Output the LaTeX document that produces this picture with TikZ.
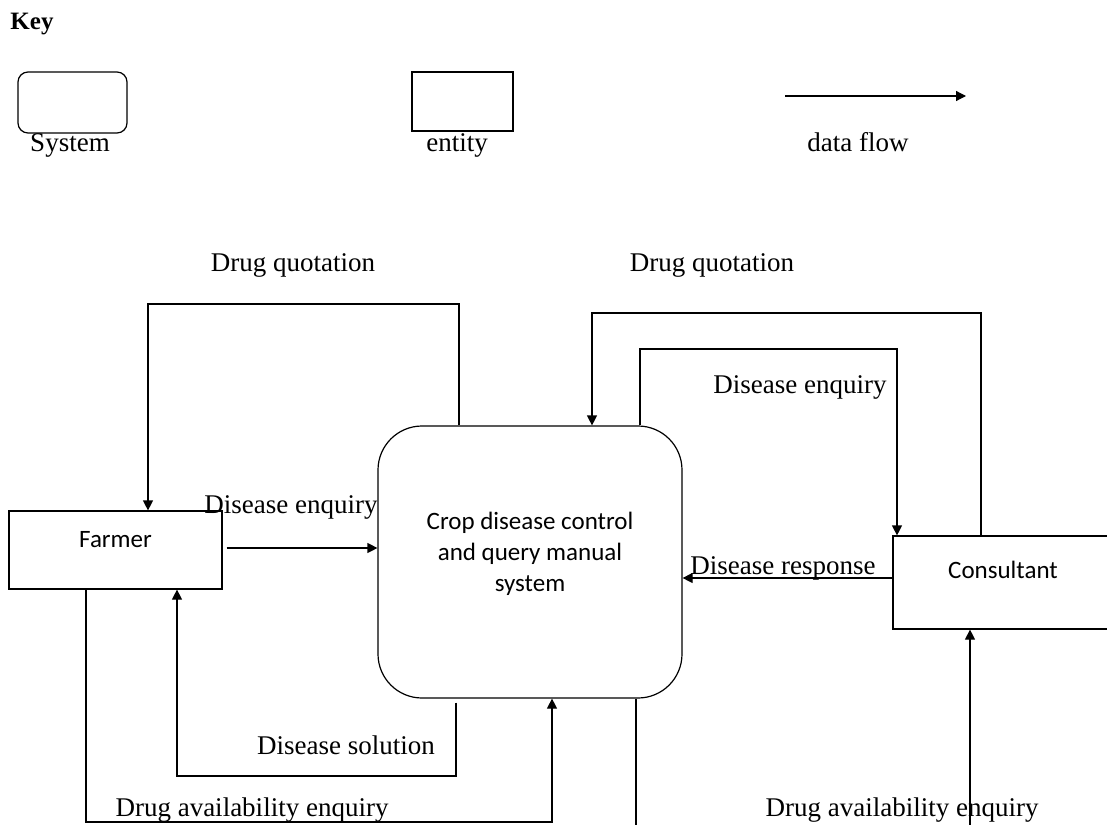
\documentclass[tikz,border=0pt]{standalone}
\usepackage{fontspec}
\setmainfont{Liberation Serif}
\newfontfamily\bodysans{Carlito}
\usetikzlibrary{arrows.meta}
\tikzset{
  wire/.style={draw, line width=1.2pt},
  flow/.style={wire, -{Triangle[length=10pt,width=10pt]}},
  lbl/.style={anchor=base, inner sep=0pt, font=\fontsize{27}{32}\selectfont},
  entitybox/.style={draw, line width=1.2pt, rectangle, inner sep=0pt,
    font=\bodysans\fontsize{25}{31}\selectfont},
  systembox/.style={draw, line width=1.2pt, rectangle, rounded corners=44pt,
    inner sep=0pt, align=center, font=\bodysans\fontsize{25}{31}\selectfont},
}
\begin{document}
\begin{tikzpicture}[x=1pt, y=-1pt]
\useasboundingbox (0,0) rectangle (1107,824);
\clip (0,0) rectangle (1107,824);

% ---- key ----
\node[lbl, font=\bfseries\fontsize{25}{30}\selectfont] (keytitle) at (32,30) {Key};
\node[draw, line width=1.2pt, rounded corners=10pt, inner sep=0pt,
      minimum width=109pt, minimum height=61pt] (keysys) at (72.5,102.5) {};
\node[lbl] (keysyslbl) at (70,151) {System};
\node[draw, line width=1.2pt, inner sep=0pt,
      minimum width=101pt, minimum height=59pt] (keyent) at (462.5,101.5) {};
\node[lbl] (keyentlbl) at (457,151) {entity};
\coordinate (flowA) at (785,96);
\coordinate (flowB) at (966,96);
\draw[flow] (flowA) -- (flowB);
\node[lbl] (flowlbl) at (858,151) {data flow};

% ---- process and external entities ----
\node[systembox, minimum width=304pt, minimum height=272pt] (sys) at (530,562)
  {Crop disease control\\and query manual\\system\rule[-21pt]{0pt}{21pt}};
\node[entitybox, minimum width=213pt, minimum height=78pt,
      text height=12pt, text depth=18pt] (farmer) at (115.5,550) {Farmer};
\node[entitybox, minimum width=220pt, minimum height=93pt,
      text height=12pt, text depth=21pt] (consult) at (1003,582.5) {Consultant};

% ---- data flows ----
% drug quotation to the farmer
\draw[flow] (sys.north -| 459,0) -- (459,304) -- (148,304) -- (farmer.north -| 148,0);
\node[lbl] (q1) at (293,271) {Drug quotation};
% drug quotation from the consultant
\draw[flow] (consult.north -| 981,0) -- (981,313) -- (592,313) -- (sys.north -| 592,0);
\node[lbl] (q2) at (712,271) {Drug quotation};
% disease enquiry passed on to the consultant
\draw[flow] (sys.north -| 640,0) -- (640,349) -- (897,349) -- (consult.north -| 897,0);
\node[lbl] (e2) at (800,393) {Disease enquiry};
% disease enquiry from the farmer
\draw[flow, shorten <=4pt] (farmer.east |- 0,548) -- (sys.west |- 0,548);
\node[lbl] (e1) at (291,513) {Disease enquiry};
% disease response from the consultant
\draw[flow] (consult.west |- 0,578) -- (sys.east |- 0,578);
\node[lbl] (r1) at (783,574) {Disease response};
% disease solution back to the farmer
\draw[flow, shorten <=4pt] (sys.south -| 456,0) -- (456,776) -- (177,776) -- (farmer.south -| 177,0);
\node[lbl] (s1) at (346,754) {Disease solution};
% drug availability enquiry from the farmer
\draw[flow] (farmer.south -| 86,0) -- (86,822) -- (552,822) -- (sys.south -| 552,0);
\node[lbl] (a1) at (252,816) {Drug availability enquiry};
% drug availability enquiry to the consultant (runs below the page edge)
\coordinate (cutL) at (636,830);
\coordinate (cutR) at (970,830);
\draw[wire] (sys.south -| 636,0) -- (cutL);
\draw[flow] (cutR) -- (consult.south -| 970,0);
\node[lbl] (a2) at (902,816) {Drug availability enquiry};
\end{tikzpicture}
\end{document}
